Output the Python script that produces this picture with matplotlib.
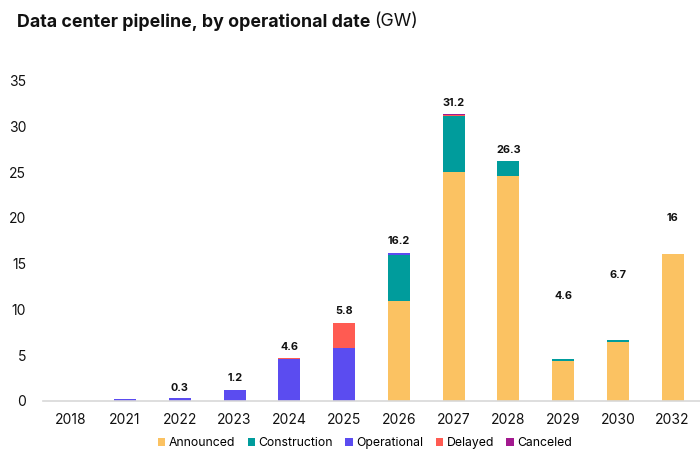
import matplotlib
matplotlib.use("Agg")
import matplotlib.pyplot as plt
import numpy as np
from matplotlib.patches import Patch

plt.rcParams['font.family'] = ['Inter', 'DejaVu Sans']

years = ["2018", "2021", "2022", "2023", "2024", "2025", "2026", "2027", "2028", "2029", "2030", "2032"]
announced =    [0, 0,   0,   0,   0,   0,   10.9, 25.0, 24.6, 4.4, 6.4, 16.0]
construction = [0, 0,   0,   0,   0,   0,   5.0,  6.1,  1.6,  0.2, 0.3, 0.0]
operational =  [0, 0.2, 0.3, 1.2, 4.6, 5.8, 0.3,  0.0,  0.0,  0.0, 0.0, 0.0]
delayed =      [0, 0,   0,   0,   0.1, 2.7, 0.0,  0.15, 0.0,  0.0, 0.0, 0.0]
canceled =     [0, 0,   0,   0,   0,   0,   0.0,  0.1,  0.0,  0.0, 0.0, 0.0]
labels =  ["", "", "0.3", "1.2", "4.6", "5.8", "16.2", "31.2", "26.3", "4.6", "6.7", "16"]
label_y = [0, 0, 1.4, 2.5, 5.9, 9.8, 17.5, 32.5, 27.4, 11.5, 13.8, 20.0]

series = [("Announced", announced, "#FBC262"),
          ("Construction", construction, "#009C9C"),
          ("Operational", operational, "#5B4CF0"),
          ("Delayed", delayed, "#FF5B52"),
          ("Canceled", canceled, "#A3198F")]

fig = plt.figure(figsize=(7, 4.63), dpi=100)
ax = fig.add_axes([43/700, (463-401)/463, 657/700, (401-53)/463])

x = np.arange(len(years))
bottom = np.zeros(len(years))
for name, vals, col in series:
    v = np.array(vals, dtype=float)
    ax.bar(x, v, width=0.4, bottom=bottom, color=col, label=name)
    bottom += v

for xi, lab, ly in zip(x, labels, label_y):
    if lab:
        ax.text(xi, ly, lab, ha='center', va='center', fontsize=7.8, fontweight='bold', color='#111111')

ax.set_xlim(-0.5, len(years) - 0.5)
ax.set_ylim(0, 38)
ax.set_xticks(x)
ax.set_xticklabels(years)
ax.set_yticks(np.arange(0, 36, 5))
ax.tick_params(axis='both', length=0, labelsize=10, colors='#111111')
ax.tick_params(axis='y', pad=12)
ax.tick_params(axis='x', pad=9)
for s in ['top', 'right', 'left']:
    ax.spines[s].set_visible(False)
ax.spines['bottom'].set_color('#d8d8d8')
ax.spines['bottom'].set_linewidth(1.2)

t1 = fig.text(17/700, 1 - 22/463, "Data center pipeline, by operational date", fontsize=12.8,
              fontweight='bold', va='center', ha='left', color='#111111')
fig.canvas.draw()
bb = t1.get_window_extent()
fig.text((bb.x1 + 4) / 700, 1 - 22/463, "(GW)", fontsize=12.8, va='center', ha='left', color='#111111')

handles = [Patch(facecolor=c, label=n) for n, _, c in series]
fig.legend(handles=handles, loc='center', bbox_to_anchor=(365/700, 1 - 443/463), ncol=5,
           frameon=False, fontsize=8.8, handlelength=0.6, handleheight=0.6,
           handletextpad=0.3, columnspacing=1.0)

fig.savefig("out.png", dpi=100)
